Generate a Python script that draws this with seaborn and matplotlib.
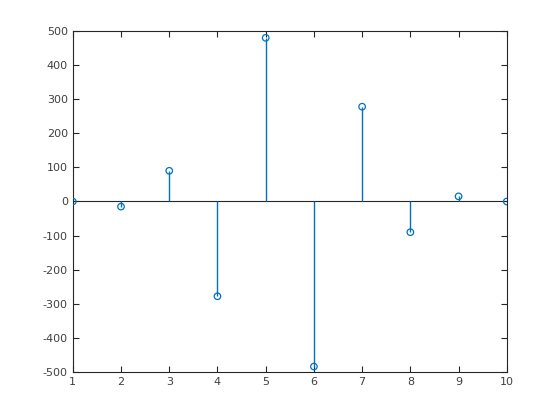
import pandas as pd
import seaborn as sns
import matplotlib
matplotlib.use("Agg")
import matplotlib.pyplot as plt

sns.set_style("ticks")
plt.rcParams["font.family"] = ["DejaVu Sans"]
plt.rcParams["axes.unicode_minus"] = False

# sample index and stem values
n = [1, 2, 3, 4, 5, 6, 7, 8, 9, 10]
values = [0, -15, 90, -278, 480, -484, 278, -90, 15, 0]

df = pd.DataFrame({"n": n, "value": values})
blue = "#0072BD"

fig = plt.figure(figsize=(5.6, 4.2), dpi=100)
ax = fig.add_axes([0.13, 0.1143, 0.775, 0.8119])

# baseline and stems
ax.axhline(0, color="#262626", lw=0.8, zorder=1)
ax.vlines(df["n"], 0, df["value"], color=blue, lw=1, zorder=2)
sns.scatterplot(data=df, x="n", y="value", ax=ax, marker="o", s=22,
                facecolors="none", edgecolor=blue, linewidth=0.9, zorder=3)

ax.set_xlim(1, 10)
ax.set_ylim(-500, 500)
ax.set_xticks(range(1, 11))
ax.set_yticks(range(-500, 501, 100))
ax.set_xlabel("")
ax.set_ylabel("")

for side in ax.spines.values():
    side.set_visible(True)
    side.set_color("#262626")
    side.set_linewidth(0.8)
ax.tick_params(direction="in", top=True, right=True, length=4,
               width=0.8, color="#262626", labelsize=8, labelcolor="#404040")

fig.savefig("out.png", dpi=100)
